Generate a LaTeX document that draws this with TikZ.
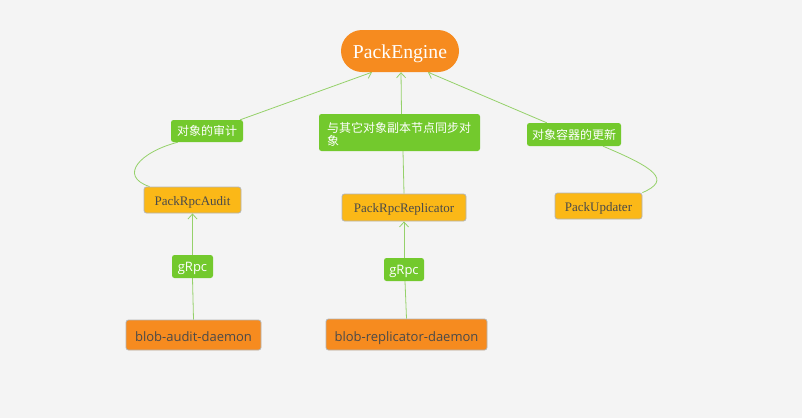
\documentclass[tikz,border=0pt]{standalone}
\usepackage{fontspec}
\setmainfont{Liberation Serif}
\newfontfamily\cjkf{Noto Sans CJK SC}
\newfontfamily\osans{Open Sans}
\usetikzlibrary{arrows.meta,backgrounds}
\definecolor{bgc}{HTML}{F4F4F4}
\definecolor{orng}{HTML}{F68B1F}
\definecolor{yell}{HTML}{FBB817}
\definecolor{grn}{HTML}{73C92D}
\definecolor{edgec}{HTML}{95D16A}
\definecolor{txtg}{HTML}{4A4A4A}
\definecolor{bord}{HTML}{B4B4B4}
\begin{document}
\begin{tikzpicture}[x=1pt,y=-1pt,
  engbox/.style={fill=orng,draw=none,rounded corners=21pt,minimum width=118pt,minimum height=42pt,inner sep=0pt,text=white,text height=17pt,text depth=1.4pt,font=\fontsize{19.7}{24}\selectfont},
  rpcbox/.style={fill=yell,draw=bord,line width=0.8pt,rounded corners=2.5pt,minimum height=26pt,inner sep=0pt,text=txtg,text height=12pt,text depth=1.8pt,font=\fontsize{13}{15}\selectfont},
  dmnbox/.style={fill=orng,draw=bord,line width=0.8pt,rounded corners=2.5pt,minimum height=30pt,inner sep=0pt,text=txtg,text height=14pt,text depth=0.7pt,font=\osans\fontsize{13}{15}\selectfont},
  lbl/.style={fill=grn,draw=none,rounded corners=2.5pt,inner sep=0pt,text=white,font=\cjkf\fontsize{12}{13}\selectfont},
  glbl/.style={fill=grn,draw=none,rounded corners=2.5pt,inner sep=0pt,minimum height=23pt,text=white,text height=11pt,text depth=1.7pt,font=\osans\fontsize{13}{15}\selectfont},
  conn/.style={draw=edgec,line width=0.8pt},
  arr/.style={conn,-{Straight Barb[length=5pt,width=9pt]}}]
\useasboundingbox (0,0) rectangle (802,418);
\node[engbox] (engine) at (400,51) {PackEngine};
\node[rpcbox,minimum width=97pt] (audit) at (192.5,200) {PackRpcAudit};
\node[rpcbox,minimum width=124pt,minimum height=27pt] (repl) at (404,207.5) {PackRpcReplicator};
\node[rpcbox,minimum width=87pt] (upd) at (598.5,206) {PackUpdater};
\node[dmnbox,minimum width=135pt] (ad) at (193.5,335) {blob-audit-daemon};
\node[dmnbox,minimum width=161pt,minimum height=31pt] (rd) at (406.5,334.5) {blob-replicator-daemon};
\node[lbl,minimum width=72pt,minimum height=22pt] (l1) at (207,131) {对象的审计};
\node[lbl,minimum width=161pt,minimum height=37pt,align=left,text width=145pt] (l2) at (399.5,132.5) {\rule{0pt}{14pt}与其它对象副本节点同步对\\象};
\node[lbl,minimum width=94pt,minimum height=23pt] (l3) at (574,134.5) {对象容器的更新};
\node[glbl,minimum width=41pt] (g1) at (192.5,266.5) {gRpc};
\node[glbl,minimum width=40pt] (g2) at (404,269.5) {gRpc};
\begin{scope}[on background layer]
\fill[bgc] (0,0) rectangle (802,418);
\draw[conn] ([xshift=6pt]audit.north west) .. controls (118,176) and (140,152) .. ([xshift=7pt]l1.south west);
\draw[arr] ([xshift=-3pt]l1.north east) -- ([xshift=-28pt]engine.south);
\draw[conn] (repl.north) -- ([xshift=3.5pt]l2.south);
\draw[arr] ([xshift=2pt]l2.north) -- ([xshift=1pt]engine.south);
\draw[conn] (upd.north east) .. controls (672,180) and (655,168) .. ([xshift=29pt]l3.south);
\draw[arr] ([xshift=20pt]l3.north west) -- ([xshift=28pt]engine.south);
\draw[conn] (ad.north) -- (g1.south);
\draw[arr] (g1.north) -- (audit.south);
\draw[conn] (rd.north) -- ([xshift=1pt]g2.south);
\draw[arr] (g2.north) -- (repl.south);
\end{scope}
\end{tikzpicture}
\end{document}
